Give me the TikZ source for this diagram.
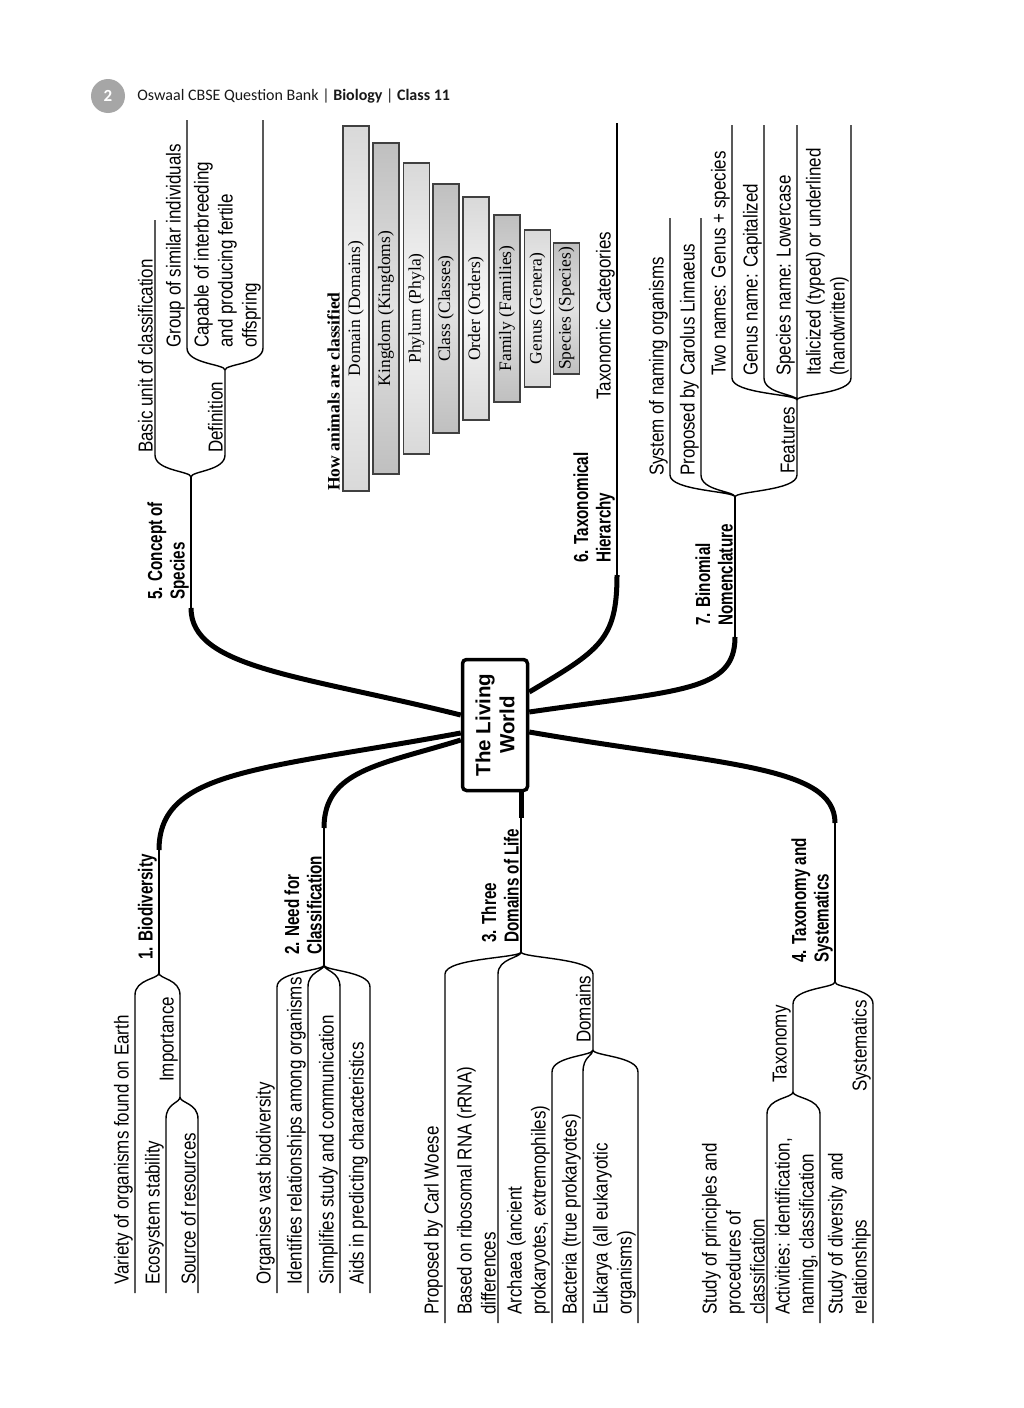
\documentclass[tikz,border=0pt]{standalone}
\usepackage{fontspec}
\usetikzlibrary{calc,positioning}
\setmainfont{Liberation Sans}
\newfontfamily\leaffont{Liberation Sans}[FakeStretch=0.84]
\newfontfamily\headfont{Liberation Sans}[FakeStretch=0.75]
\newfontfamily\tierfont{Liberation Serif}
\newfontfamily\hdrfont{Carlito}
\tikzset{
    trunk/.style={line width=5pt},
    twig/.style={line width=1.4pt},
    leaf/.style={rotate=90, anchor=south west, inner sep=2pt, align=left,
      font=\leaffont\fontsize{20.2}{24}\selectfont},
    head/.style={leaf, font=\headfont\bfseries\fontsize{20.3}{22.5}\selectfont},
    tier/.style={rotate=90, draw=black!75, line width=1.2pt, inner sep=0pt,
      minimum height=26, font=\tierfont\fontsize{17.5}{17.5}\selectfont},
    tierpale/.style={tier, top color=gray!30, bottom color=gray!30, middle color=gray!6},
    tierdark/.style={tier, top color=gray!50, bottom color=gray!50, middle color=gray!22},
    bracedown/.style={to path={.. controls ($(\tikztostart)+(0,6)$)
      and ($(\tikztostart -| \tikztotarget)+(0,6)$) .. ($(\tikztostart -| \tikztotarget)+(0,22)$)
      -- (\tikztotarget)}},
    braceup/.style={to path={.. controls ($(\tikztostart)+(0,-6)$)
      and ($(\tikztostart -| \tikztotarget)+(0,-6)$) .. ($(\tikztostart -| \tikztotarget)+(0,-22)$)
      -- (\tikztotarget)}},
  }
\begin{document}
\begin{tikzpicture}[x=1pt,y=-1pt]
				  % page, 1 unit = 1 pixel, y downwards
				  \fill[white] (0,0) rectangle (1024,1408);
				  \useasboundingbox (0,0) rectangle (1024,1408);

				  % header
				  \node[circle, fill=gray!70, minimum size=34, inner sep=0pt, text=white,
				    font=\hdrfont\bfseries\fontsize{17}{17}\selectfont] (pg) at (108,96) {2};
				  \node[right=12pt of pg, inner sep=0pt, text=black!90,
				    font=\hdrfont\fontsize{16}{16}\selectfont] (hdr)
				    {Oswaal CBSE Question Bank | \textbf{Biology} | \textbf{Class 11}};

				  % centre
				  \node[rotate=90, draw, fill=white, line width=3.5pt, rounded corners=4pt,
				    minimum width=131, minimum height=65, align=center,
				    font=\bfseries\fontsize{20.5}{24}\selectfont] (lw) at (495,725) {The Living\\World};

				  % 5. concept of species
				  \coordinate (a5) at (lw.north |- 0,715);
				  \coordinate (s5) at (191,608);
				  \coordinate (f5) at (191,477);
				  \coordinate (f5a) at (225,370);
				  \coordinate (u5) at (155,220);
				  \coordinate (u5a) at (187,120);
				  \coordinate (u5b) at (263,120);
				  \draw[trunk] (a5) .. controls (300,675) and (191,668) .. (s5);
				  \draw[twig] (s5) -- (f5);
				  \draw[twig] (f5) to[braceup] (u5) (f5) to[braceup] (f5a);
				  \draw[twig] (f5a) to[braceup] (u5a) (f5a) to[braceup] (u5b);
				  \node[head] (h5) at (191,602) {5. Concept of\\Species};
				  \node[leaf] (t5a) at (155,455) {Basic unit of classification};
				  \node[leaf] (t5b) at (225,455) {Definition};
				  \node[leaf] (t5c) at (187,350) {Group of similar individuals};
				  \node[leaf] (t5d) at (263,350) {Capable of interbreeding\\and producing fertile\\offspring};

				  % 6. taxonomical hierarchy
				  \coordinate (a6) at (lw.south |- 0,692);
				  \coordinate (s6) at (617,575);
				  \coordinate (u6) at (617,123);
				  \draw[trunk] (a6) .. controls (600,650) and (617,640) .. (s6);
				  \draw[twig] (s6) -- (u6);
				  \node[head] (h6) at (617,565) {6. Taxonomical\\Hierarchy};
				  \node[leaf] (t6) at (617,402) {Taxonomic Categories};
				  \node[rotate=90, anchor=south west, inner sep=1pt,
				    font=\tierfont\bfseries\fontsize{17.5}{17.5}\selectfont] (how) at (341,492) {How animals are classified};
				  \node[tierpale, minimum width=365] (dom) at (356,308.5) {Domain (Domains)};
				  \node[tierdark, minimum width=331] (kin) at (386,308.5) {Kingdom (Kingdoms)};
				  \node[tierpale, minimum width=291] (phy) at (416.5,308.5) {Phylum (Phyla)};
				  \node[tierdark, minimum width=249] (cla) at (446,308.5) {Class (Classes)};
				  \node[tierpale, minimum width=223] (ord) at (476,308.5) {Order (Orders)};
				  \node[tierdark, minimum width=187] (fam) at (507,308.5) {Family (Families)};
				  \node[tierpale, minimum width=157] (gen) at (537.5,308.5) {Genus (Genera)};
				  \node[tierdark, minimum width=131] (spe) at (566.5,308.5) {Species (Species)};

				  % 7. binomial nomenclature
				  \coordinate (a7) at (lw.south |- 0,712);
				  \coordinate (s7) at (735,637);
				  \coordinate (f7) at (735,497);
				  \coordinate (f7a) at (797,400);
				  \coordinate (u7a) at (670,218);
				  \coordinate (u7b) at (701,218);
				  \coordinate (u7c) at (732,125);
				  \coordinate (u7d) at (764,125);
				  \coordinate (u7e) at (797,125);
				  \coordinate (u7f) at (851,125);
				  \draw[trunk] (a7) .. controls (680,690) and (735,692) .. (s7);
				  \draw[twig] (s7) -- (f7);
				  \draw[twig] (f7) to[braceup] (u7a) (f7) to[braceup] (u7b) (f7) to[braceup] (f7a);
				  \draw[twig] (f7a) to[braceup] (u7c) (f7a) to[braceup] (u7d) (f7a) -- (u7e) (f7a) to[braceup] (u7f);
				  \node[head] (h7) at (735,628) {7. Binomial\\Nomenclature};
				  \node[leaf] (t7a) at (670,478) {System of naming organisms};
				  \node[leaf] (t7b) at (701,478) {Proposed by Carolus Linnaeus};
				  \node[leaf] (t7c) at (797,476) {Features};
				  \node[leaf] (t7d) at (732,378) {Two names: Genus + species};
				  \node[leaf] (t7e) at (764,378) {Genus name: Capitalized};
				  \node[leaf] (t7f) at (797,378) {Species name: Lowercase};
				  \node[leaf] (t7g) at (851,378) {Italicized (typed) or underlined\\(handwritten)};

				  % 1. biodiversity
				  \coordinate (a1) at (lw.north |- 0,733);
				  \coordinate (s1) at (159,850);
				  \coordinate (f1) at (159,973);
				  \coordinate (f1a) at (180,1097);
				  \coordinate (v1a) at (135,1293);
				  \coordinate (v1b) at (166,1293);
				  \coordinate (v1c) at (198,1293);
				  \draw[trunk] (a1) .. controls (260,770) and (159,770) .. (s1);
				  \draw[twig] (s1) -- (f1);
				  \draw[twig] (f1) to[bracedown] (v1a) (f1) to[bracedown] (f1a);
				  \draw[twig] (f1a) to[bracedown] (v1b) (f1a) to[bracedown] (v1c);
				  \node[head] (h1) at (159,962) {1. Biodiversity};
				  \node[leaf] (t1a) at (135,1287) {Variety of organisms found on Earth};
				  \node[leaf] (t1b) at (180,1084) {Importance};
				  \node[leaf] (t1c) at (166,1287) {Ecosystem stability};
				  \node[leaf] (t1d) at (198,1287) {Source of resources};

				  % 2. need for classification
				  \coordinate (a2) at (lw.north |- 0,740);
				  \coordinate (s2) at (324,828);
				  \coordinate (f2) at (324,965);
				  \coordinate (v2a) at (277,1293);
				  \coordinate (v2b) at (308,1293);
				  \coordinate (v2c) at (340,1293);
				  \coordinate (v2d) at (370,1293);
				  \draw[trunk] (a2) .. controls (380,765) and (324,770) .. (s2);
				  \draw[twig] (s2) -- (f2);
				  \draw[twig] (f2) to[bracedown] (v2a) (f2) to[bracedown] (v2b)
				    (f2) to[bracedown] (v2c) (f2) to[bracedown] (v2d);
				  \node[head] (h2) at (324,957) {2. Need for\\Classification};
				  \node[leaf] (t2a) at (277,1287) {Organises vast biodiversity};
				  \node[leaf] (t2b) at (308,1287) {Identifies relationships among organisms};
				  \node[leaf] (t2c) at (340,1287) {Simplifies study and communication};
				  \node[leaf] (t2d) at (370,1287) {Aids in predicting characteristics};

				  % 3. three domains of life
				  \coordinate (a3) at (lw.west -| 521,0);
				  \coordinate (s3) at (521,818);
				  \coordinate (f3) at (521,952);
				  \coordinate (f3a) at (593,1050);
				  \coordinate (v3a) at (445,1323);
				  \coordinate (v3b) at (498,1323);
				  \coordinate (v3c) at (552,1323);
				  \coordinate (v3d) at (583,1323);
				  \coordinate (v3e) at (638,1323);
				  \draw[trunk] (a3) -- (s3);
				  \draw[twig] (s3) -- (f3);
				  \draw[twig] (f3) to[bracedown] (v3a) (f3) to[bracedown] (v3b) (f3) to[bracedown] (f3a);
				  \draw[twig] (f3a) to[bracedown] (v3c) (f3a) to[bracedown] (v3d) (f3a) to[bracedown] (v3e);
				  \node[head] (h3) at (521,945) {3. Three\\Domains of Life};
				  \node[leaf] (t3a) at (445,1317) {Proposed by Carl Woese};
				  \node[leaf] (t3b) at (498,1317) {Based on ribosomal RNA (rRNA)\\differences};
				  \node[leaf] (t3c) at (593,1045) {Domains};
				  \node[leaf] (t3d) at (552,1317) {Archaea (ancient\\prokaryotes, extremophiles)};
				  \node[leaf] (t3e) at (583,1317) {Bacteria (true prokaryotes)};
				  \node[leaf] (t3f) at (638,1317) {Eukarya (all eukaryotic\\organisms)};

				  % 4. taxonomy and systematics
				  \coordinate (a4) at (lw.south |- 0,732);
				  \coordinate (s4) at (835,823);
				  \coordinate (f4) at (835,982);
				  \coordinate (f4a) at (793,1092);
				  \coordinate (v4a) at (767,1323);
				  \coordinate (v4b) at (820,1323);
				  \coordinate (v4c) at (873,1323);
				  \draw[trunk] (a4) .. controls (720,765) and (835,765) .. (s4);
				  \draw[twig] (s4) -- (f4);
				  \draw[twig] (f4) to[bracedown] (f4a) (f4) to[bracedown] (v4c);
				  \draw[twig] (f4a) to[bracedown] (v4a) (f4a) to[bracedown] (v4b);
				  \node[head] (h4) at (835,965) {4. Taxonomy and\\Systematics};
				  \node[leaf] (t4a) at (793,1085) {Taxonomy};
				  \node[leaf] (t4b) at (873,1094) {Systematics};
				  \node[leaf] (t4c) at (767,1317) {Study of principles and\\procedures of\\classification};
				  \node[leaf] (t4d) at (820,1317) {Activities: identification,\\naming, classification};
				  \node[leaf] (t4e) at (873,1317) {Study of diversity and\\relationships};
\end{tikzpicture}
\end{document}
